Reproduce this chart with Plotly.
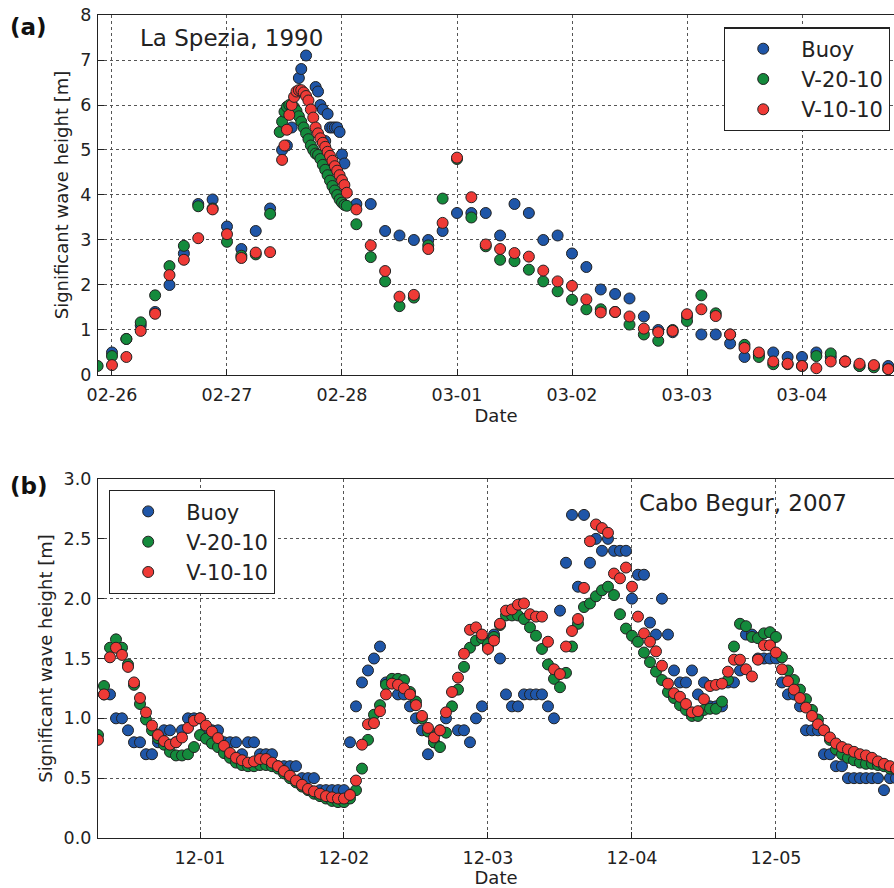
import pandas as pd
import plotly.graph_objects as go

# ---------------- Panel (a): La Spezia, 1990 (hours after 1990-02-26 00:00) ----------------
a_buoy_hours = [0, 3, 6, 9, 12, 15, 18, 21, 24, 27, 30, 33,
                35.5, 36.5, 37.5, 39, 39.5, 40.5, 42.5, 43, 43.5, 44, 44.5, 45, 45.5, 46, 46.5, 47, 47.5, 48, 48.5,
                51, 54, 57, 60, 63, 66, 69, 72, 75, 78, 81, 84, 87, 90, 93, 96, 99, 102, 105, 108, 111, 114,
                117, 120, 123, 126, 129, 132, 135, 138, 141, 144, 147, 150, 153, 156, 159, 162]
a_buoy_hs = [0.5, 0.8, 1.1, 1.4, 2.0, 2.7, 3.8, 3.9, 3.3, 2.8, 3.2, 3.7,
             5.0, 5.1, 5.5, 6.6, 6.8, 7.1, 6.4, 6.3, 6.0, 5.9, 5.2, 5.8, 5.5, 5.5, 5.5, 5.5, 5.4, 4.9, 4.7,
             3.8, 3.8, 3.2, 3.1, 3.0, 3.0, 3.2, 3.6, 3.6, 3.6, 3.1, 3.8, 3.6, 3.0, 3.1, 2.7, 2.4, 1.9, 1.8, 1.7, 1.3, 1.0,
             0.95, 1.3, 0.9, 0.9, 0.7, 0.4, 0.45, 0.5, 0.4, 0.4, 0.5, 0.4, 0.3, 0.2, 0.2, 0.2]

a_v20_hours = [-3, 0, 3, 6, 9, 12, 15, 18, 21, 24, 27, 30, 33,
               35, 35.5, 36, 36.5, 37, 37.5, 38, 38.5, 39, 39.5, 40, 40.5, 41, 41.5, 42, 42.5, 43, 43.5,
               44, 44.5, 45, 45.5, 46, 46.5, 47, 47.5, 48, 48.5, 49,
               51, 54, 57, 60, 63, 66, 69, 72, 75, 78, 81, 84, 87, 90, 93, 96, 99, 102, 105, 108, 111, 114,
               117, 120, 123, 126, 129, 132, 135, 138, 141, 144, 147, 150, 153, 156, 159, 162]
a_v20_hs = [0.2, 0.42, 0.8, 1.17, 1.77, 2.42, 2.87, 3.75, 3.7, 2.96, 2.65, 2.68, 3.58,
            5.4, 5.63, 5.85, 5.96, 6.0, 5.98, 5.95, 5.87, 5.75, 5.63, 5.5, 5.37, 5.24, 5.1, 5.0, 4.92, 4.89, 4.8,
            4.67, 4.56, 4.44, 4.32, 4.2, 4.1, 4.0, 3.9, 3.83, 3.78, 3.76,
            3.35, 2.62, 2.08, 1.53, 1.72, 2.88, 3.92, 4.8, 3.5, 2.86, 2.56, 2.53, 2.34, 2.08, 1.86, 1.67, 1.46, 1.46, 1.4, 1.12, 0.9, 0.76,
            1.0, 1.2, 1.77, 1.37, 0.9, 0.67, 0.4, 0.24, 0.24, 0.2, 0.42, 0.48, 0.3, 0.2, 0.17, 0.13]

a_v10_hours = [0, 3, 6, 9, 12, 15, 18, 21, 24, 27, 30, 33,
               35.5, 36, 36.5, 37, 37.5, 38, 38.5, 39, 39.5, 40, 40.5, 41, 41.5, 42, 42.5, 43, 43.5,
               44, 44.5, 45, 45.5, 46, 46.5, 47, 47.5, 48, 48.5, 49,
               51, 54, 57, 60, 63, 66, 69, 72, 75, 78, 81, 84, 87, 90, 93, 96, 99, 102, 105, 108, 111, 114,
               117, 120, 123, 126, 129, 132, 135, 138, 141, 144, 147, 150, 153, 156, 159, 162]
a_v10_hs = [0.22, 0.4, 0.98, 1.36, 2.22, 2.56, 3.04, 3.68, 3.13, 2.6, 2.72, 2.73,
            4.78, 5.1, 5.45, 5.78, 6.0, 6.18, 6.3, 6.33, 6.33, 6.28, 6.2, 6.1, 5.9, 5.72, 5.5, 5.37, 5.26,
            5.16, 5.07, 4.96, 4.87, 4.76, 4.64, 4.54, 4.44, 4.33, 4.22, 4.05,
            3.68, 2.88, 2.31, 1.74, 1.78, 2.8, 3.38, 4.83, 3.95, 2.9, 2.8, 2.71, 2.63, 2.32, 2.08, 1.98, 1.68, 1.39, 1.4, 1.3, 1.03, 0.95,
            0.98, 1.35, 1.46, 1.31, 0.9, 0.6, 0.5, 0.3, 0.25, 0.2, 0.15, 0.3, 0.3, 0.25, 0.22, 0.13]

# ---------------- Panel (b): Cabo Begur, 2007 (hours after 2007-12-01 00:00) ----------------
b_buoy_hours = [h for h in range(-16, 117) if h != 42]
b_buoy_hs = [1.2, 1.2, 1.0, 1.0, 0.9, 0.8, 0.8, 0.7, 0.7, 0.8, 0.9, 0.9, 0.8, 0.9, 1.0, 1.0,  # -16..-1
             1.0, 0.9, 0.9, 0.9, 0.8, 0.8, 0.8, 0.7, 0.8, 0.8, 0.7, 0.7, 0.7, 0.6, 0.6, 0.6, 0.6,  # 0..16
             0.5, 0.5, 0.5, 0.4, 0.4, 0.4, 0.4, 0.4,  # 17..24
             0.8, 1.1, 1.3, 1.4, 1.5, 1.6, 1.3, 1.3, 1.2, 1.2, 1.1, 1.0, 0.9, 0.7, 0.8, 0.9, 1.0,  # 25..41
             0.9, 0.9, 0.8, 1.0, 1.1, 1.6, 1.7, 1.5, 1.2, 1.1, 1.1, 1.2, 1.2, 1.2, 1.2, 1.1, 1.0,  # 43..59
             1.9, 2.3, 2.7, 2.1, 2.7, 2.3, 2.5, 2.4, 2.5, 2.4, 2.4, 2.4,  # 60..71
             2.0, 2.2, 2.2, 1.8, 1.7, 2.0, 1.7, 1.4, 1.3, 1.3, 1.4, 1.2, 1.3, 1.1, 1.1, 1.1,  # 72..87
             1.3, 1.3, 1.4, 1.7, 1.7, 1.5, 1.5, 1.5, 1.5, 1.3, 1.2, 1.2, 1.1,  # 88..100
             0.9, 0.9, 0.9, 0.7, 0.7, 0.6, 0.6, 0.5, 0.5, 0.5, 0.5, 0.5, 0.5, 0.4, 0.5, 0.5]  # 101..116

b_model_hours = list(range(-17, 117))
b_v20_hs = [0.86, 1.27, 1.59, 1.66, 1.59, 1.45, 1.28, 1.12, 0.99, 0.9, 0.835, 0.78, 0.72, 0.69, 0.69, 0.70, 0.76,  # -17..-1
            0.86, 0.83, 0.79, 0.76, 0.71, 0.67, 0.63, 0.61, 0.6, 0.6, 0.61, 0.61, 0.6, 0.58, 0.54, 0.5,  # 0..15
            0.465, 0.43, 0.4, 0.37, 0.35, 0.33, 0.31, 0.30, 0.30,  # 16..24
            0.33, 0.4, 0.58, 0.82, 1.03, 1.11, 1.28, 1.33, 1.33, 1.32, 1.22, 1.14, 1.0, 0.89, 0.8, 0.76,  # 25..40
            0.88, 1.1, 1.24, 1.43, 1.59, 1.65, 1.67, 1.62, 1.68, 1.78, 1.86, 1.86, 1.86, 1.83, 1.76, 1.69,  # 41..56
            1.58, 1.45, 1.33, 1.26, 1.38, 1.6, 1.79, 1.93, 1.96, 2.02, 2.07, 2.1, 2.03, 1.87, 1.75,  # 57..71
            1.69, 1.64, 1.55, 1.47, 1.39, 1.32, 1.22, 1.17, 1.11, 1.07, 1.02, 1.02, 1.07, 1.08, 1.08, 1.14,  # 72..87
            1.32, 1.6, 1.79, 1.77, 1.68, 1.67, 1.71, 1.72, 1.68, 1.51, 1.4, 1.32, 1.24, 1.16, 1.07, 0.99,  # 88..103
            0.9, 0.82, 0.74, 0.7, 0.67, 0.65, 0.63, 0.62, 0.62, 0.61, 0.6, 0.58, 0.57]  # 104..116
b_v10_hs = [0.82, 1.2, 1.51, 1.59, 1.53, 1.43, 1.3, 1.17, 1.05, 0.94, 0.86, 0.81, 0.78, 0.8, 0.84, 0.92, 0.98,  # -17..-1
            1.0, 0.94, 0.89, 0.835, 0.77, 0.71, 0.67, 0.65, 0.63, 0.64, 0.66, 0.66, 0.63, 0.6, 0.56, 0.52,  # 0..15
            0.48, 0.445, 0.41, 0.39, 0.37, 0.35, 0.34, 0.33, 0.33,  # 16..24
            0.36, 0.48, 0.78, 0.95, 0.96, 1.06, 1.2, 1.29, 1.28, 1.25, 1.2, 1.11, 1.02, 0.92, 0.84, 0.9,  # 25..40
            1.05, 1.22, 1.34, 1.54, 1.74, 1.76, 1.7, 1.58, 1.65, 1.79, 1.9, 1.91, 1.95, 1.96, 1.87, 1.85,  # 41..56
            1.85, 1.64, 1.41, 1.37, 1.6, 1.73, 1.83, 2.09, 2.48, 2.62, 2.59, 2.55, 2.21, 2.17, 2.26,  # 57..71
            2.1, 1.85, 1.71, 1.64, 1.56, 1.44, 1.29, 1.21, 1.18, 1.12, 1.05, 1.06, 1.16, 1.27, 1.28, 1.29,  # 72..87
            1.39, 1.49, 1.49, 1.41, 1.35, 1.49, 1.61, 1.61, 1.55, 1.41, 1.31, 1.24, 1.17, 1.09, 1.02, 0.95,  # 88..103
            0.9, 0.84, 0.79, 0.76, 0.74, 0.72, 0.70, 0.69, 0.67, 0.64, 0.62, 0.6, 0.58]  # 104..116

series_names = ["Buoy", "V-20-10", "V-10-10"]
series_colors = ["#1f56a8", "#148a3c", "#ef3a36"]

a_base = pd.Timestamp("1990-02-26")
b_base = pd.Timestamp("2007-12-01")


def to_dates(base, hours):
    return [base + pd.Timedelta(hours=h) for h in hours]


FONT = "DejaVu Sans"
fig = go.Figure()

panel_a = [(a_buoy_hours, a_buoy_hs), (a_v20_hours, a_v20_hs), (a_v10_hours, a_v10_hs)]
panel_b = [(b_buoy_hours, b_buoy_hs), (b_model_hours, b_v20_hs), (b_model_hours, b_v10_hs)]

for (hrs, vals), name, col in zip(panel_a, series_names, series_colors):
    fig.add_trace(go.Scatter(x=to_dates(a_base, hrs), y=vals, mode="markers", name=name,
                             marker=dict(color=col, size=11, line=dict(color="#222222", width=1)),
                             xaxis="x", yaxis="y", legend="legend", cliponaxis=True))
for (hrs, vals), name, col in zip(panel_b, series_names, series_colors):
    fig.add_trace(go.Scatter(x=to_dates(b_base, hrs), y=vals, mode="markers", name=name,
                             marker=dict(color=col, size=11, line=dict(color="#222222", width=1)),
                             xaxis="x2", yaxis="y2", legend="legend2", cliponaxis=True))

axis_common = dict(showgrid=True, gridcolor="#555555", griddash="dot", gridwidth=1,
                   showline=True, linecolor="#222222", linewidth=1.2, ticks="inside", ticklen=6,
                   tickcolor="#222222", tickfont=dict(family=FONT, size=17.5, color="#222222"),
                   zeroline=False)

fig.update_layout(
    width=894, height=888,
    margin=dict(l=98, r=0, t=15, b=50),
    paper_bgcolor="white", plot_bgcolor="white",
    font=dict(family=FONT, color="#222222"),
    xaxis=dict(domain=[0, 1], anchor="y", type="date",
               range=[a_base + pd.Timedelta(hours=-2.92), a_base + pd.Timedelta(hours=163.2)],
               tickformat="%m-%d", dtick=86400000, tick0="1990-02-26", mirror=True,
               ticklabelstandoff=4,
               title=dict(text="Date", font=dict(family=FONT, size=18), standoff=4), **axis_common),
    yaxis=dict(domain=[0.5626, 1], anchor="x", range=[0, 8], dtick=1, ticklabelstandoff=2,
               title=dict(text="Significant wave height [m]", font=dict(family=FONT, size=18), standoff=6),
               **axis_common),
    xaxis2=dict(domain=[0, 1], anchor="y2", type="date",
                range=[b_base + pd.Timedelta(hours=-17), b_base + pd.Timedelta(hours=115.67)],
                tickformat="%m-%d", dtick=86400000, tick0="2007-12-01", mirror=True,
                ticklabelstandoff=4,
                title=dict(text="Date", font=dict(family=FONT, size=18), standoff=4), **axis_common),
    yaxis2=dict(domain=[0, 0.4362], anchor="x2", range=[0, 3], dtick=0.5, tickformat=".1f",
                ticklabelstandoff=2,
                title=dict(text="Significant wave height [m]", font=dict(family=FONT, size=18), standoff=6),
                **axis_common),
    legend=dict(x=0.995, y=0.985, xanchor="right", yanchor="top", bgcolor="white",
                bordercolor="#222222", borderwidth=1.2, font=dict(family=FONT, size=21),
                itemwidth=66, tracegroupgap=0),
    legend2=dict(x=0.0138, y=0.4228, xanchor="left", yanchor="top", bgcolor="white",
                 bordercolor="#222222", borderwidth=1.2, font=dict(family=FONT, size=21),
                 itemwidth=66, tracegroupgap=0),
    annotations=[
        dict(text="La Spezia, 1990", xref="paper", yref="paper", x=0.05, y=0.972,
             xanchor="left", yanchor="middle", showarrow=False, font=dict(family=FONT, size=23)),
        dict(text="Cabo Begur, 2007", xref="paper", yref="paper", x=0.677, y=0.407,
             xanchor="left", yanchor="middle", showarrow=False, font=dict(family=FONT, size=23)),
        dict(text="<b>(a)</b>", xref="paper", yref="paper", x=-0.113, y=0.985,
             xanchor="left", yanchor="middle", showarrow=False, font=dict(family=FONT, size=23, color="#111")),
        dict(text="<b>(b)</b>", xref="paper", yref="paper", x=-0.113, y=0.4277,
             xanchor="left", yanchor="middle", showarrow=False, font=dict(family=FONT, size=23, color="#111")),
    ],
    showlegend=True,
)

fig.write_html("out.html")
